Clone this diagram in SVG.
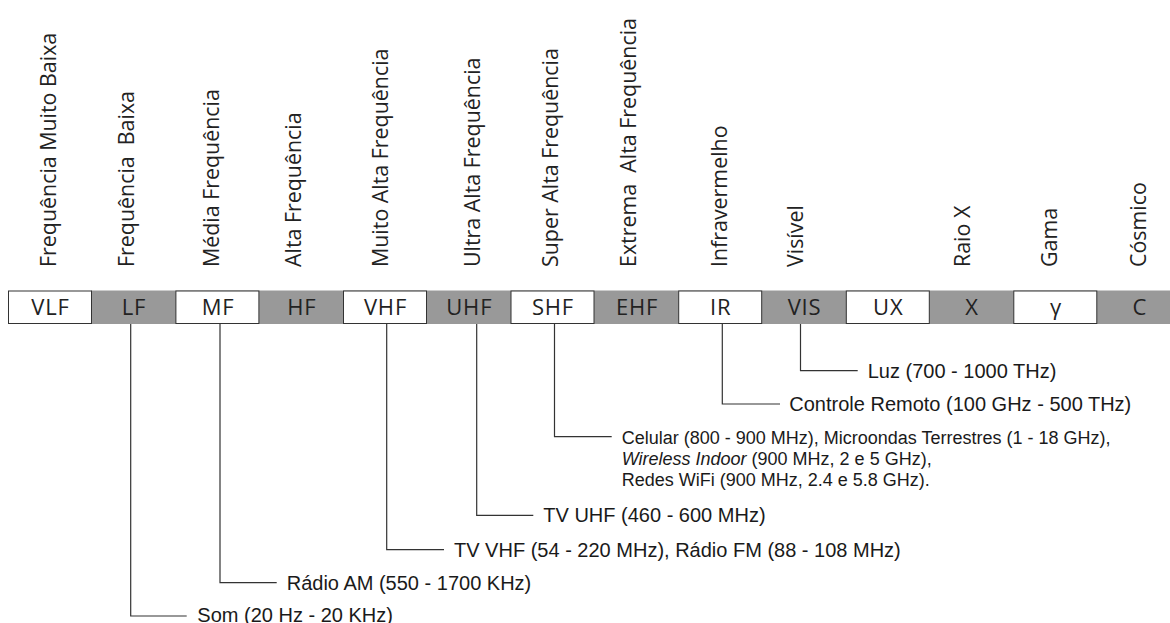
<svg xmlns="http://www.w3.org/2000/svg" width="1170" height="623" viewBox="0 0 1170 623">
<style>
.band{fill:#999999}
.box{fill:#ffffff;stroke:#333333;stroke-width:1}
.lbl{font-family:"Open Sans","Noto Sans",sans-serif;font-size:22px;letter-spacing:0.8px;fill:#222222;text-anchor:middle}
.vert{font-family:"Open Sans","Noto Sans",sans-serif;font-size:21.4px;fill:#222222}
.conn{fill:none;stroke:#333333;stroke-width:1.2}
.note{font-family:"Liberation Sans",Arial,sans-serif;font-size:20px;fill:#1a1a1a}
.small{font-family:"Liberation Sans",Arial,sans-serif;font-size:18px;fill:#1a1a1a}
</style>
<rect width="1170" height="623" fill="#ffffff"/>
<g id="titles">
<text class="vert" transform="translate(55.5,267) rotate(-90)">Frequência Muito Baixa</text>
<text class="vert" xml:space="preserve" transform="translate(133.8,267) rotate(-90)">Frequência  Baixa</text>
<text class="vert" transform="translate(218.8,267) rotate(-90)">Média Frequência</text>
<text class="vert" transform="translate(300.5,267) rotate(-90)">Alta Frequência</text>
<text class="vert" transform="translate(388,267) rotate(-90)">Muito Alta Frequência</text>
<text class="vert" transform="translate(479.8,267) rotate(-90)">Ultra Alta Frequência</text>
<text class="vert" transform="translate(557.5,267) rotate(-90)">Super Alta Frequência</text>
<text class="vert" xml:space="preserve" transform="translate(635.5,267) rotate(-90)">Extrema  Alta Frequência</text>
<text class="vert" transform="translate(726.5,267) rotate(-90)">Infravermelho</text>
<text class="vert" transform="translate(803,267) rotate(-90)">Visível</text>
<text class="vert" transform="translate(969.8,267) rotate(-90)">Raio X</text>
<text class="vert" transform="translate(1056.5,267) rotate(-90)">Gama</text>
<text class="vert" transform="translate(1145.8,267) rotate(-90)">Cósmico</text>
</g>
<rect class="band" x="91" y="290.5" width="1079" height="33.5"/>
<g id="VLF"><rect class="box" x="8.5" y="291" width="83" height="32.5"/><text class="lbl" x="50.5" y="315">VLF</text></g>
<g id="LF"><text class="lbl" x="134" y="315">LF</text></g>
<g id="MF"><rect class="box" x="175.9" y="291" width="83" height="32.5"/><text class="lbl" x="218" y="315">MF</text></g>
<g id="HF"><text class="lbl" x="301.8" y="315">HF</text></g>
<g id="VHF"><rect class="box" x="343.5" y="291" width="83" height="32.5"/><text class="lbl" x="385.5" y="315">VHF</text></g>
<g id="UHF"><text class="lbl" x="469.3" y="315">UHF</text></g>
<g id="SHF"><rect class="box" x="511" y="291" width="83" height="32.5"/><text class="lbl" x="553" y="315">SHF</text></g>
<g id="EHF"><text class="lbl" x="637" y="315">EHF</text></g>
<g id="IR"><rect class="box" x="678.7" y="291" width="83" height="32.5"/><text class="lbl" x="720.7" y="315">IR</text></g>
<g id="VIS"><text class="lbl" x="804.5" y="315">VIS</text></g>
<g id="UX"><rect class="box" x="846.3" y="291" width="83" height="32.5"/><text class="lbl" x="888.3" y="315">UX</text></g>
<g id="X"><text class="lbl" x="972" y="315">X</text></g>
<g id="GAMMA"><rect class="box" x="1013.8" y="291" width="83" height="32.5"/><text class="lbl" x="1056" y="315">γ</text></g>
<g id="C"><text class="lbl" x="1139.8" y="315">C</text></g>
<g id="connectors">
<path class="conn" d="M800.5,324 V370.7 H857.7"/>
<path class="conn" d="M722.3,324 V404 H780"/>
<path class="conn" d="M554.5,324 V436.7 H611.7"/>
<path class="conn" d="M476.7,324 V515.3 H533.3"/>
<path class="conn" d="M386.7,324 V549.7 H444"/>
<path class="conn" d="M220,324 V582.7 H276.7"/>
<path class="conn" d="M130.7,324 V616 H186.7"/>
</g>
<g id="notes">
<text class="note" x="867.7" y="377.5">Luz (700 - 1000 THz)</text>
<text class="note" x="789.3" y="411">Controle Remoto (100 GHz - 500 THz)</text>
<text class="small" x="621.7" y="443.5">Celular (800 - 900 MHz), Microondas Terrestres (1 - 18 GHz),</text>
<text class="small" x="621.7" y="464.5"><tspan font-style="italic">Wireless Indoor</tspan> (900 MHz, 2 e 5 GHz),</text>
<text class="small" x="621.7" y="485.5">Redes WiFi (900 MHz, 2.4 e 5.8 GHz).</text>
<text class="note" x="543.3" y="522">TV UHF (460 - 600 MHz)</text>
<text class="note" x="454" y="556.5">TV VHF (54 - 220 MHz), Rádio FM (88 - 108 MHz)</text>
<text class="note" x="286.7" y="589.5">Rádio AM (550 - 1700 KHz)</text>
<text class="note" x="197.3" y="621.5">Som (20 Hz - 20 KHz)</text>
</g>
</svg>
